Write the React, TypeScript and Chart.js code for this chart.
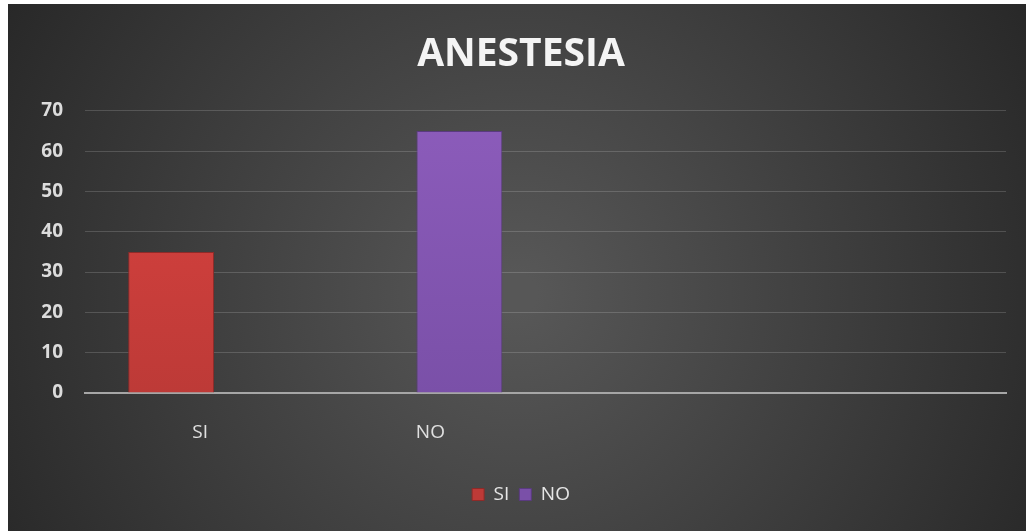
import React, { useEffect, useRef } from "react";
import { Chart, registerables } from "chart.js";

Chart.register(...registerables);

const categories = ["SI", "NO", "", ""];
const siValues = [35, null, null, null];
const noValues = [null, 65, null, null];
const yTicks = [0, 10, 20, 30, 40, 50, 60, 70];
const titleText = "ANESTESIA";

const bgPlugin = {
  id: "bgPlugin",
  beforeDraw(chart: any) {
    const { ctx, width, height } = chart;
    ctx.save();
    const g = ctx.createRadialGradient(width / 2, height * 0.55, 20, width / 2, height * 0.55, width * 0.6);
    g.addColorStop(0, "#575757");
    g.addColorStop(1, "#262626");
    ctx.fillStyle = g;
    ctx.fillRect(0, 0, width, height);
    ctx.restore();
  },
};

function barGrad(top: string, bottom: string) {
  return (c: any) => {
    const { chart } = c;
    const area = chart.chartArea;
    if (!area) return top;
    const g = chart.ctx.createLinearGradient(0, area.top, 0, area.bottom);
    g.addColorStop(0, top);
    g.addColorStop(1, bottom);
    return g;
  };
}

export default function App() {
  const ref = useRef<HTMLCanvasElement>(null);
  useEffect(() => {
    const chart = new Chart(ref.current!, {
      type: "bar",
      data: {
        labels: categories,
        datasets: [
          {
            label: "SI",
            data: siValues,
            backgroundColor: barGrad("#dc4340", "#bd3a37"),
            borderColor: "#8e2a28",
            borderWidth: 1,
            categoryPercentage: 0.504,
            barPercentage: 1.48,
          },
          {
            label: "NO",
            data: noValues,
            backgroundColor: barGrad("#8c5cbb", "#7a50a8"),
            borderColor: "#5a3a80",
            borderWidth: 1,
            categoryPercentage: 0.504,
            barPercentage: 1.48,
          },
        ] as any,
      },
      options: {
        animation: false,
        responsive: false,
        maintainAspectRatio: false,
        layout: { padding: { top: 8, right: 20, bottom: 17, left: 28 } },
        plugins: {
          title: {
            display: true,
            text: titleText,
            color: "#f4f4f4",
            font: { family: "Open Sans", size: 39, weight: "bold" },
            padding: { top: 19, bottom: 33 },
          },
          legend: {
            position: "bottom",
            labels: {
              color: "#e6e6e6",
              font: { family: "Open Sans", size: 19 },
              boxWidth: 12,
              boxHeight: 12,
              padding: 10,
            },
          },
          tooltip: { enabled: false },
        },
        scales: {
          x: {
            grid: { display: false, drawTicks: false },
            border: { display: true, color: "#a6a6a6", width: 2 },
            ticks: {
              color: "#e0e0e0",
              font: { family: "Open Sans", size: 19 },
              padding: 28,
            },
            afterFit(s: any) {
              s.height = 82;
            },
          },
          y: {
            min: 0,
            max: 70,
            grid: { color: "rgba(255,255,255,0.16)", drawTicks: false },
            border: { display: false },
            afterBuildTicks(s: any) {
              s.ticks = yTicks.map((v) => ({ value: v }));
            },
            ticks: {
              color: "#dcdcdc",
              font: { family: "Open Sans", size: 19, weight: "bold" },
              padding: 22,
            },
            afterFit(s: any) {
              s.width = 49;
            },
          },
        },
      } as any,
      plugins: [bgPlugin],
    });
    return () => chart.destroy();
  }, []);
  return (
    <div style={{ position: "absolute", left: 8, top: 4, width: 1018, height: 527 }}>
      <canvas ref={ref} width={1018} height={527} style={{ width: 1018, height: 527, display: "block" }} />
    </div>
  );
}
